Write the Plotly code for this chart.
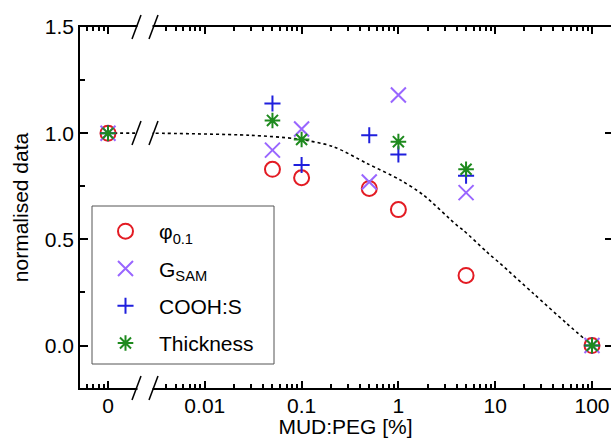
import math
import plotly.graph_objects as go

# ---------------- data ----------------
mud_peg = [0, 0.05, 0.1, 0.5, 1, 5, 100]          # MUD:PEG [%]
phi01 = [1.0, 0.83, 0.79, 0.74, 0.64, 0.33, 0.0]
g_sam = [1.0, 0.92, 1.02, 0.77, 1.18, 0.72, 0.0]
cooh_s = [1.0, 1.14, 0.85, 0.99, 0.90, 0.80, 0.0]
thick_x = [0, 0.05, 0.1, 1, 5, 100]
thickness = [1.0, 1.06, 0.97, 0.96, 0.83, 0.0]

fit_x = [0, 0.0029, 0.0293, 0.089, 0.211, 0.471, 1.04, 1.81, 4.0, 4.69, 8.17, 11.2, 24.8, 54.8, 100]
fit_y = [1.0, 1.0, 0.99, 0.973, 0.937, 0.858, 0.78, 0.709, 0.567, 0.543, 0.441, 0.387, 0.245, 0.104, 0.0]

x_ticklabels = ["0", "0.01", "0.1", "1", "10", "100"]
y_tickvals = [0.0, 0.5, 1.0, 1.5]
y_ticklabels = ["0.0", "0.5", "1.0", "1.5"]

ZERO_POS = 0.001  # where "0" sits on the broken log axis


def brk(xs):
    return [ZERO_POS if v == 0 else v for v in xs]


# ---------------- layout geometry ----------------
W, H = 611, 438
ML, MR, MT, MB = 80, 0, 27, 50
PW, PH = W - ML - MR, H - MT - MB


def px(xp):
    return (xp - ML) / PW


def py(yp):
    return (H - MB - yp) / PH


FONT = "Liberation Sans, Arial, Helvetica, sans-serif"
FS = 21

fig = go.Figure()

fig.add_trace(go.Scatter(x=brk(fit_x), y=fit_y, mode="lines",
                         line=dict(color="black", width=1.6, dash="dot", shape="spline", smoothing=0.8),
                         showlegend=False, hoverinfo="skip"))

fig.add_trace(go.Scatter(x=brk(mud_peg), y=phi01, mode="markers", name="φ<sub>0.1</sub>",
                         legendgroup="a",
                         marker=dict(symbol="circle-open", size=15, color="#e31b23",
                                     line=dict(width=2, color="#e31b23"))))
fig.add_trace(go.Scatter(x=brk(mud_peg), y=g_sam, mode="markers", name="G<sub>SAM</sub>",
                         legendgroup="b",
                         marker=dict(symbol="x-thin-open", size=15, color="#9966ff",
                                     line=dict(width=2, color="#9966ff"))))
fig.add_trace(go.Scatter(x=brk(mud_peg), y=cooh_s, mode="markers", name="COOH:S",
                         legendgroup="c",
                         marker=dict(symbol="cross-thin-open", size=11.5, color="#1f1fdd",
                                     line=dict(width=2, color="#1f1fdd"))))
fig.add_trace(go.Scatter(x=brk(thick_x), y=thickness, mode="markers", name="Thickness",
                         legendgroup="d",
                         marker=dict(symbol="asterisk-open", size=13, color="#1e8a1e",
                                     line=dict(width=2, color="#1e8a1e"))))

# dummy trace for the right-hand tick axis
fig.add_trace(go.Scatter(x=[None], y=[None], yaxis="y2", showlegend=False, hoverinfo="skip"))

x_tickvals = [ZERO_POS, 0.01, 0.1, 1, 10, 100]
x_minor = [k * 10 ** e for e in range(-4, 3) for k in range(2, 10)
           if not (e == -3 and k in (2, 3))]
left = math.log10(ZERO_POS) - 28 / 96.8
right = left + PW / 96.8

fig.update_layout(
    width=W, height=H,
    margin=dict(l=ML, r=MR, t=MT, b=MB, autoexpand=False),
    plot_bgcolor="white", paper_bgcolor="white",
    font=dict(family=FONT, size=FS, color="black"),
    xaxis=dict(type="log", range=[left, right], automargin=False,
               tickmode="array", tickvals=x_tickvals, ticktext=x_ticklabels,
               ticks="inside", ticklen=7, tickwidth=1.5, tickcolor="black",
               ticklabelstandoff=-2,
               minor=dict(tickmode="array", tickvals=x_minor, ticks="inside",
                          ticklen=4, tickwidth=1.5, tickcolor="black", showgrid=False),
               showline=True, linecolor="black", linewidth=1.5, mirror="ticks",
               showgrid=False, zeroline=False,
               title=dict(text="MUD:PEG [%]", font=dict(size=FS), standoff=11)),
    yaxis=dict(range=[-0.2, 1.5], automargin=False,
               tickmode="array", tickvals=y_tickvals, ticktext=y_ticklabels,
               ticks="inside", ticklen=8, tickwidth=1.5, tickcolor="black",
               minor=dict(tickmode="array", tickvals=[0.25, 0.75, 1.25], ticks="inside",
                          ticklen=5, tickwidth=1.5, tickcolor="black", showgrid=False),
               showline=True, linecolor="black", linewidth=1.5,
               showgrid=False, zeroline=False,
               title=dict(text="normalised data", font=dict(size=FS), standoff=10)),
    yaxis2=dict(range=[-0.2, 1.5], overlaying="y", side="right", anchor="x", automargin=False,
                tickmode="array", tickvals=y_tickvals, showticklabels=False,
                ticks="inside", ticklen=6, tickwidth=1.5, tickcolor="black",
                showline=False, showgrid=False, zeroline=False),
    legend=dict(x=px(92), y=py(211), xanchor="left", yanchor="top",
                bgcolor="rgba(0,0,0,0)", borderwidth=0,
                font=dict(size=FS), itemwidth=57, tracegroupgap=7,
                traceorder="grouped"),
    showlegend=True,
)

shapes = []
# legend frame
shapes.append(dict(type="rect", xref="paper", yref="paper", layer="above",
                   x0=px(92), x1=px(274), y0=py(364), y1=py(206),
                   fillcolor="white", line=dict(color="#555555", width=1)))
# axis break: white gaps + slashes
for cy, hh in [(H - MB, 3), (MT, 3), (133, 3)]:
    shapes.append(dict(type="rect", xref="paper", yref="paper", layer="above",
                       x0=px(137.5), x1=px(152.5), y0=py(cy + hh), y1=py(cy - hh),
                       fillcolor="white", line=dict(width=0)))
    for cx in (136.5, 153.5):
        shapes.append(dict(type="line", xref="paper", yref="paper", layer="above",
                           x0=px(cx - 4.5), y0=py(cy + 12), x1=px(cx + 4.5), y1=py(cy - 12),
                           line=dict(color="black", width=1.5)))
fig.update_layout(shapes=shapes)

fig.write_html("out.html", config={"displayModeBar": False},
               post_script="document.body.style.margin='0';")
